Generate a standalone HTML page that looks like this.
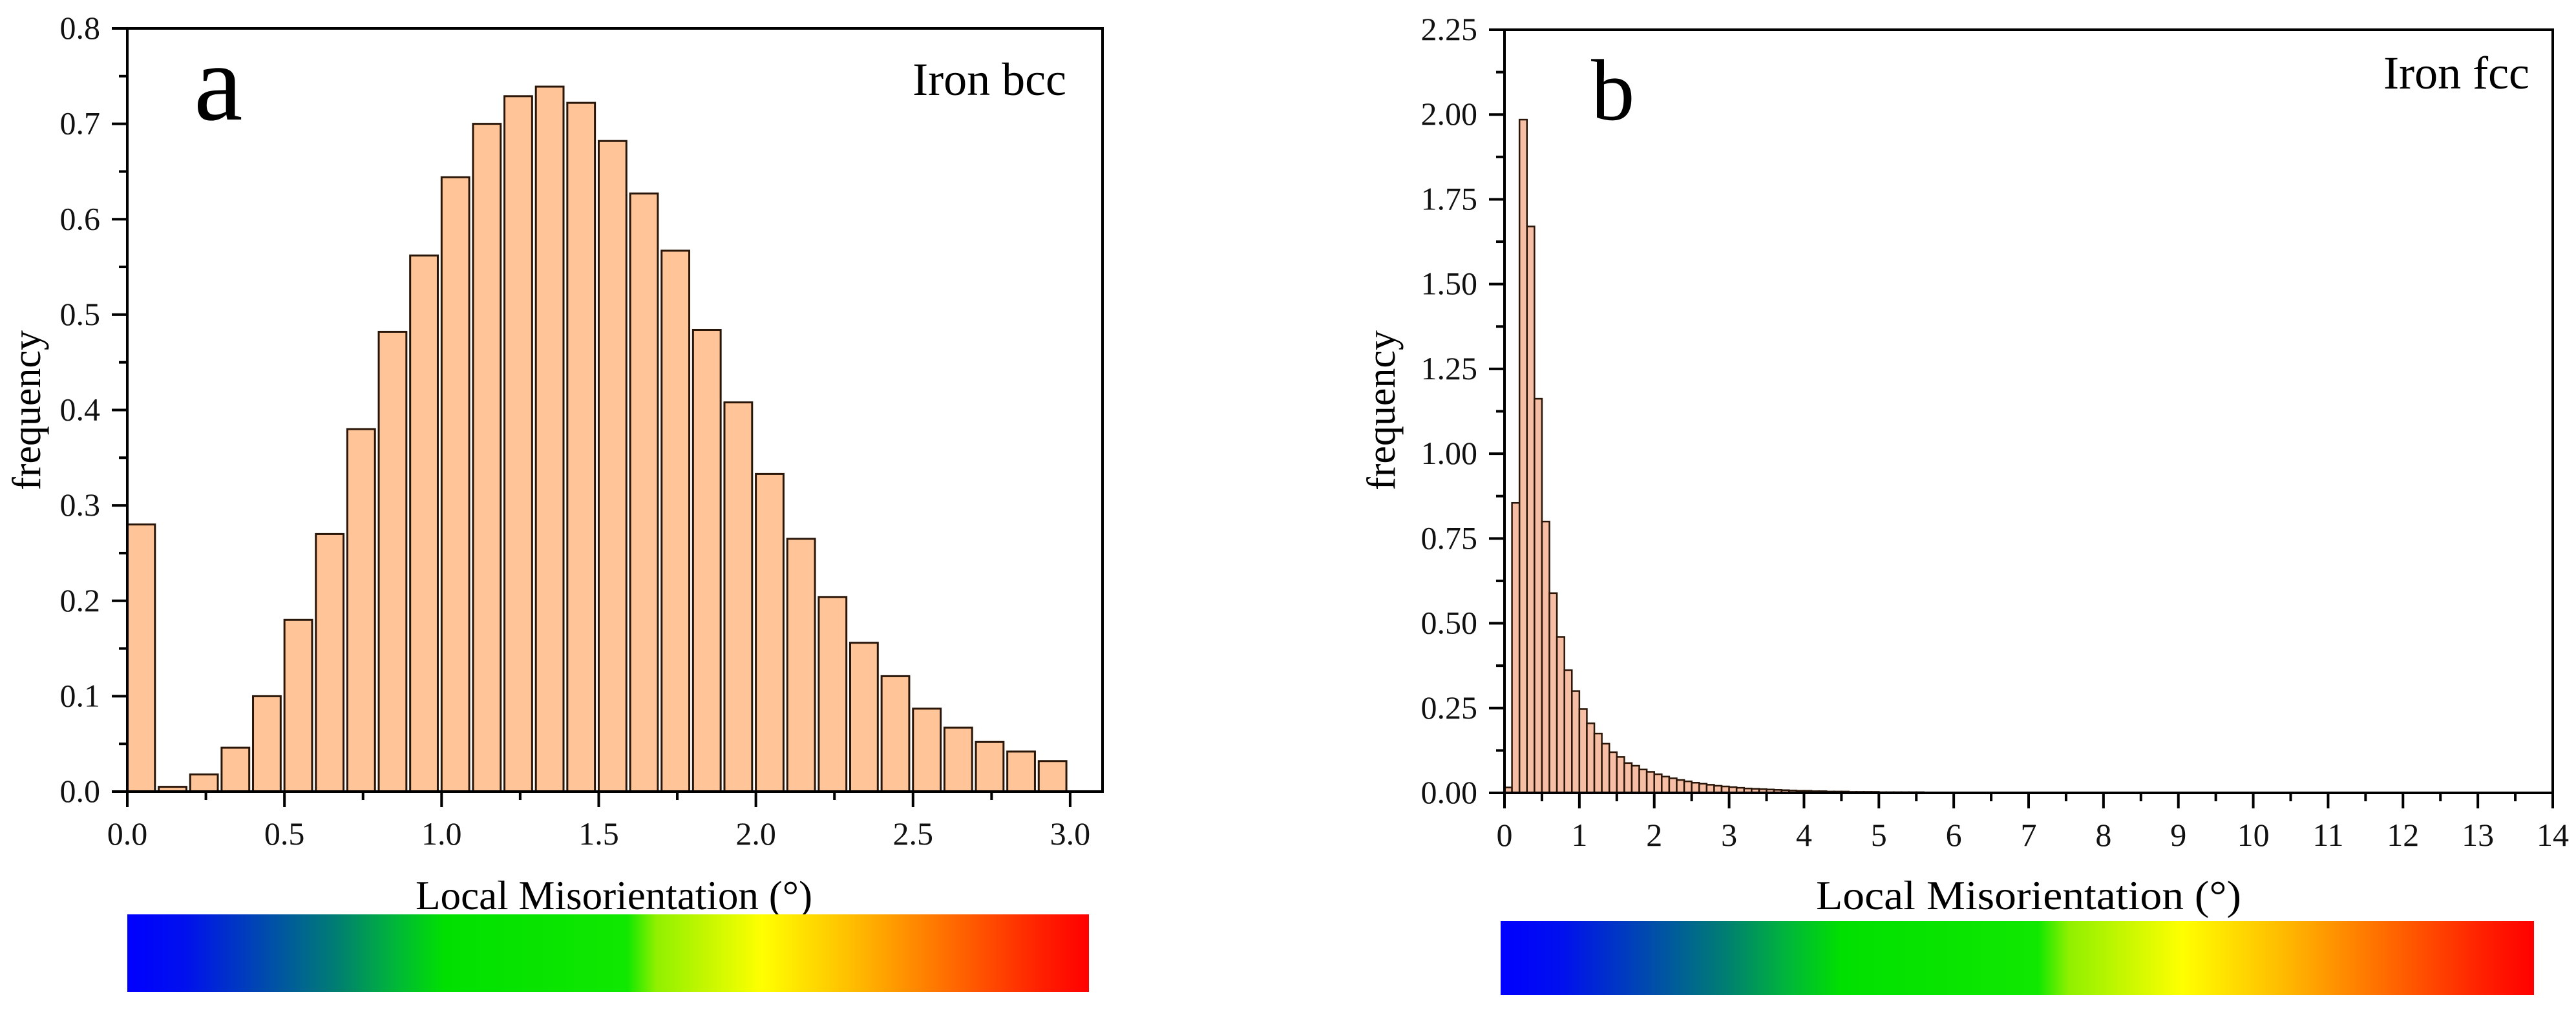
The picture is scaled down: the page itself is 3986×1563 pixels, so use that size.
<!DOCTYPE html>
<html><head><meta charset="utf-8"><style>
html,body{margin:0;padding:0;background:#fff;}
svg{display:block;font-family:"Liberation Serif","DejaVu Serif",serif;}
</style></head><body>
<svg id="fig" width="3986" height="1563" viewBox="0 0 3986 1563" xmlns="http://www.w3.org/2000/svg">
<defs>
<linearGradient id="cbar" x1="0" x2="1" y1="0" y2="0">
<stop offset="0" stop-color="#0000ff"/>
<stop offset="0.06" stop-color="#0010ee"/>
<stop offset="0.15" stop-color="#0050a8"/>
<stop offset="0.22" stop-color="#008070"/>
<stop offset="0.28" stop-color="#00b838"/>
<stop offset="0.33" stop-color="#00e000"/>
<stop offset="0.52" stop-color="#10e800"/>
<stop offset="0.55" stop-color="#90f000"/>
<stop offset="0.66" stop-color="#ffff00"/>
<stop offset="0.75" stop-color="#ffc000"/>
<stop offset="0.85" stop-color="#ff7000"/>
<stop offset="0.95" stop-color="#ff2000"/>
<stop offset="1" stop-color="#ff0000"/>
</linearGradient>
</defs>
<g id="panelA"></g>
<g id="panelB"></g>
<rect x="197" y="1415" width="1488" height="120" fill="url(#cbar)"/>
<rect x="2322" y="1425" width="1599" height="115" fill="url(#cbar)"/>
</svg>
<script>
// Panel a data (bin start in degrees, frequency)
const binsA = [0.0,0.1,0.2,0.3,0.4,0.5,0.6,0.7,0.8,0.9,1.0,1.1,1.2,1.3,1.4,1.5,1.6,1.7,1.8,1.9,2.0,2.1,2.2,2.3,2.4,2.5,2.6,2.7,2.8,2.9];
const valuesA = [0.28,0.005,0.018,0.046,0.1,0.18,0.27,0.38,0.482,0.562,0.644,0.70,0.729,0.739,0.722,0.682,0.627,0.567,0.484,0.408,0.333,0.265,0.204,0.156,0.121,0.087,0.067,0.052,0.042,0.032];
const xTicksA = ["0.0","0.5","1.0","1.5","2.0","2.5","3.0"];
const yTicksA = ["0.0","0.1","0.2","0.3","0.4","0.5","0.6","0.7","0.8"];
// Panel b data
const binsB = [0.0,0.1,0.2,0.3,0.4,0.5,0.6,0.7,0.8,0.9,1.0,1.1,1.2,1.3,1.4,1.5,1.6,1.7,1.8,1.9,2.0,2.1,2.2,2.3,2.4,2.5,2.6,2.7,2.8,2.9,3.0,3.1,3.2,3.3,3.4,3.5,3.6,3.7,3.8,3.9,4.0,4.1,4.2,4.3,4.4,4.5,4.6,4.7,4.8,4.9,5.0,5.1,5.2,5.3,5.4,5.5,5.6,5.7,5.8,5.9,6.0];
const valuesB = [0.016,0.855,1.985,1.67,1.162,0.80,0.589,0.46,0.362,0.30,0.247,0.205,0.175,0.145,0.12,0.106,0.088,0.08,0.069,0.062,0.055,0.048,0.043,0.038,0.034,0.03,0.027,0.024,0.021,0.019,0.017,0.015,0.013,0.012,0.011,0.01,0.009,0.008,0.007,0.006,0.006,0.005,0.005,0.004,0.004,0.004,0.003,0.003,0.003,0.003,0.002,0.002,0.002,0.002,0.002,0.002,0.001,0.001,0.001,0.001,0.001];
const xTicksB = ["0","1","2","3","4","5","6","7","8","9","10","11","12","13","14"];
const yTicksB = ["0.00","0.25","0.50","0.75","1.00","1.25","1.50","1.75","2.00","2.25"];

const NS="http://www.w3.org/2000/svg";
function mk(parent,tag,attrs,text){const e=document.createElementNS(NS,tag);for(const k in attrs)e.setAttribute(k,attrs[k]);if(text!==undefined)e.textContent=text;parent.appendChild(e);return e;}

function drawPanel(g,cfg){
  const {L,R,T,B,xMax,yMax,bins,vals,barW,xTicks,xStep,yTicks,yStep,fill,sw,letter,letterX,letterY,letterSize,label,labelX,labelY,ylabX,titleX,titleW,name}=cfg;
  const sx=v=>L+(v/xMax)*(R-L);
  const sy=v=>B-(v/yMax)*(B-T);
  for(let i=0;i<bins.length;i++){
    const x0=sx(bins[i]), x1=sx(bins[i]+barW);
    const y=sy(vals[i]);
    const r=mk(g,'rect',{x:x0,y:y,width:Math.max(x1-x0,1),height:Math.max(B-y,0.5),fill:fill,stroke:'#2a1608','stroke-width':sw});
    
    
  }
  const fr=mk(g,'rect',{x:L,y:T,width:R-L,height:B-T,fill:'none',stroke:'#000','stroke-width':4});
  
  
  for(let i=0;i<xTicks.length;i++){
    const v=i*xStep, x=sx(v);
    mk(g,'line',{x1:x,x2:x,y1:B,y2:B+24,stroke:'#000','stroke-width':4});
    const xm=sx(v+xStep/2);
    if(v+xStep/2<xMax) mk(g,'line',{x1:xm,x2:xm,y1:B,y2:B+13,stroke:'#000','stroke-width':4});
    const t=mk(g,'text',{x:x,y:B+82,'font-size':50,'text-anchor':'middle',fill:'#111'},xTicks[i]);
    
    
  }
  for(let i=0;i<yTicks.length;i++){
    const v=i*yStep, y=sy(v);
    mk(g,'line',{x1:L-24,x2:L,y1:y,y2:y,stroke:'#000','stroke-width':4});
    if(i<yTicks.length-1){const ym=sy(v+yStep/2);mk(g,'line',{x1:L-13,x2:L,y1:ym,y2:ym,stroke:'#000','stroke-width':4});}
    const t=mk(g,'text',{x:L-42,y:y+16,'font-size':50,'text-anchor':'end',fill:'#111'},yTicks[i]);
    
    
  }
  const lt=mk(g,'text',{x:letterX,y:letterY,'font-size':letterSize,fill:'#000'},letter);
  
  
  const lb=mk(g,'text',{x:labelX,y:labelY,'font-size':72,'text-anchor':'end',fill:'#000'},label);
  
  
  const yl=mk(g,'text',{x:0,y:0,'font-size':62,'text-anchor':'middle',transform:`translate(${ylabX},635) rotate(-90)`,fill:'#000'},'frequency');
  
  
  const xt=mk(g,'text',{x:titleX,y:1407,'font-size':64,'text-anchor':'middle',textLength:titleW,lengthAdjust:'spacingAndGlyphs',fill:'#000'},'Local Misorientation (°)');
  
  
}

drawPanel(document.getElementById('panelA'),{L:197,R:1706,T:44,B:1225,xMax:3.103,yMax:0.8,bins:binsA,vals:valuesA,barW:0.088,xTicks:xTicksA,xStep:0.5,yTicks:yTicksA,yStep:0.1,fill:'#ffc497',sw:3,letter:'a',letterX:300,letterY:185,letterSize:170,label:'Iron bcc',labelX:1650,labelY:147,ylabX:62,titleX:950,titleW:614,name:'panel-a'});
drawPanel(document.getElementById('panelB'),{L:2328,R:3950,T:46,B:1227,xMax:14,yMax:2.25,bins:binsB,vals:valuesB,barW:0.1,xTicks:xTicksB,xStep:1,yTicks:yTicksB,yStep:0.25,fill:'#f6bea4',sw:2.5,letter:'b',letterX:2462,letterY:185,letterSize:135,label:'Iron fcc',labelX:3914,labelY:137,ylabX:2158,titleX:3139,titleW:658,name:'panel-b'});
</script>
</body></html>
